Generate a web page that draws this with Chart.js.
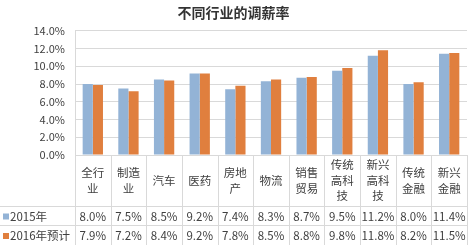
<!DOCTYPE html>
<html>
<head>
<meta charset="utf-8">
<script src="https://cdn.jsdelivr.net/npm/chart.js@4"></script>
<style>
  html, body { margin: 0; padding: 0; background: #fff; }
  #wrap { width: 468px; height: 245px; }
</style>
</head>
<body>
<div id="wrap"><canvas id="c"></canvas></div>
<script>
const industries = [["全行","业"], ["制造","业"], ["汽车"], ["医药"], ["房地","产"], ["物流"],
  ["销售","贸易"], ["传统","高科","技"], ["新兴","高科","技"], ["传统","金融"], ["新兴","金融"]];
const rate2015 = [8.0, 7.5, 8.5, 9.2, 7.4, 8.3, 8.7, 9.5, 11.2, 8.0, 11.4];
const rate2016 = [7.9, 7.2, 8.4, 9.2, 7.8, 8.5, 8.8, 9.8, 11.8, 8.2, 11.5];
const seriesNames = ["2015年", "2016年预计"];
const BLUE = "#93b3d6", ORANGE = "#e07f3e", LINE = "#d9d9d9";
const FONT = "'Noto Sans CJK SC', 'Noto Sans', sans-serif";

Chart.defaults.font.family = FONT;
Chart.defaults.color = "#404040";

// data table under the plot, aligned to the x scale
const tablePlugin = {
  id: "table",
  afterDraw(chart) {
    const ctx = chart.ctx, xs = chart.scales.x, area = chart.chartArea;
    const step = xs.getPixelForValue(1) - xs.getPixelForValue(0);
    const top = area.bottom, row1 = top + 51, row2 = row1 + 19, bottom = chart.height;
    ctx.save();
    ctx.strokeStyle = LINE;
    ctx.lineWidth = 1;
    ctx.beginPath();
    for (let i = 0; i <= industries.length; i++) {
      const x = Math.round(xs.getPixelForValue(i) - step / 2) + 0.5;
      ctx.moveTo(x, top); ctx.lineTo(x, bottom);
    }
    ctx.moveTo(0, row1 + 0.5); ctx.lineTo(area.right, row1 + 0.5);
    ctx.moveTo(0, row2 + 0.5); ctx.lineTo(area.right, row2 + 0.5);
    ctx.stroke();

    ctx.fillStyle = "#404040";
    ctx.textAlign = "center";
    ctx.textBaseline = "middle";
    ctx.font = "11.5px " + FONT;
    industries.forEach((lines, i) => {
      const x = xs.getPixelForValue(i);
      const y0 = (top + row1) / 2 - (lines.length - 1) * 15.5 / 2;
      lines.forEach((t, k) => ctx.fillText(t, x, y0 + k * 15.5));
    });
    const rows = [[rate2015, (row1 + row2) / 2 + 1], [rate2016, (row2 + bottom) / 2 + 1]];
    rows.forEach(([vals, y]) => {
      vals.forEach((v, i) => ctx.fillText(v.toFixed(1) + "%", xs.getPixelForValue(i), y));
    });
    ctx.textAlign = "left";
    [BLUE, ORANGE].forEach((col, k) => {
      const y = rows[k][1];
      ctx.fillStyle = col;
      ctx.fillRect(3, y - 3, 6, 6);
      ctx.fillStyle = "#404040";
      ctx.fillText(seriesNames[k], 10, y);
    });
    ctx.restore();
  }
};

new Chart(document.getElementById("c"), {
  type: "bar",
  data: {
    labels: industries.map(l => l.join("")),
    datasets: [
      { label: seriesNames[0], data: rate2015, backgroundColor: BLUE },
      { label: seriesNames[1], data: rate2016, backgroundColor: ORANGE }
    ]
  },
  options: {
    responsive: true, maintainAspectRatio: false, animation: false,
    layout: { padding: { left: 0, right: 1, top: 0, bottom: 90 } },
    datasets: { bar: { categoryPercentage: 0.57, barPercentage: 1.0 } },
    plugins: {
      legend: { display: false },
      tooltip: { enabled: false },
      title: {
        display: true, text: "不同行业的调薪率", color: "#333",
        font: { size: 14, weight: "bold" }, padding: { top: 4, bottom: 10 }
      }
    },
    scales: {
      x: { display: false },
      y: {
        min: 0, max: 14,
        ticks: { stepSize: 2, padding: 10, font: { size: 11 }, callback: v => v.toFixed(1) + "%" },
        grid: { color: LINE, drawTicks: false },
        border: { display: true, color: LINE },
        afterFit: s => { s.width = 75; }
      }
    }
  },
  plugins: [tablePlugin]
});
</script>
</body>
</html>
